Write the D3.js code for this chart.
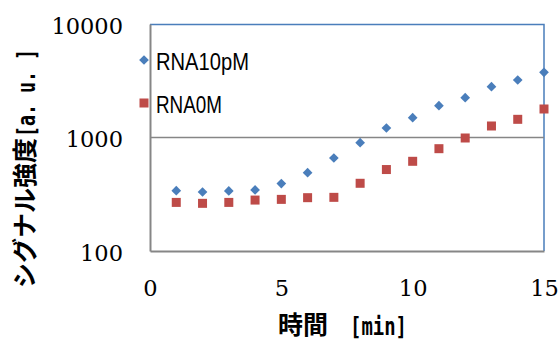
<!DOCTYPE html>
<html>
<head>
<meta charset="utf-8">
<script src="https://cdn.jsdelivr.net/npm/d3@7"></script>
<style>
  body { margin: 0; background: #fff; }
  .tick-label { font-family: "DejaVu Serif", serif; font-size: 22.5px; fill: #000; }
  .axis-title { font-family: "Noto Sans CJK JP", sans-serif; font-weight: bold; font-size: 25px; fill: #000; }
  .mono { font-family: "DejaVu Sans Mono", monospace; font-weight: bold; font-size: 25px; fill: #000; }
  .legend-text { font-family: "Liberation Sans", Arial, sans-serif; font-size: 23px; fill: #000; }
</style>
</head>
<body>
<div id="chart"></div>
<script>
// time [min]
const times = [1, 2, 3, 4, 5, 6, 7, 8, 9, 10, 11, 12, 13, 14, 15];
// signal intensity [a.u.]
const rna10pM = [340, 331, 338, 345, 393, 490, 660, 900, 1213, 1494, 1906, 2243, 2803, 3212, 3754];
const rna0M = [268, 263, 268, 281, 285, 295, 297, 395, 522, 617, 797, 990, 1263, 1446, 1783];
const seriesNames = ["RNA10pM", "RNA0M"];
const xTicks = [0, 5, 10, 15];
const yTicks = [100, 1000, 10000];

const W = 560, H = 340;
const margin = { top: 24, right: 16, bottom: 89, left: 150 };
const width = W - margin.left - margin.right;
const height = H - margin.top - margin.bottom;

const blue = "#4a7ebb";
const red = "#be4b48";
const axisGray = "#868686";

const svg = d3.select("#chart").append("svg")
  .attr("width", W)
  .attr("height", H);

const g = svg.append("g")
  .attr("transform", `translate(${margin.left}, ${margin.top})`);

const x = d3.scaleLinear().domain([0, 15]).range([0, width]);
const y = d3.scaleLog().domain([100, 10000]).range([height, 0]);

// plot area border (top/right)
g.append("path")
  .attr("d", `M0,0.5H${width}V${height}`)
  .attr("fill", "none")
  .attr("stroke", blue)
  .attr("stroke-width", 1.5);

// gridline at 1000
g.append("line")
  .attr("x1", 0).attr("x2", width)
  .attr("y1", y(1000)).attr("y2", y(1000))
  .attr("stroke", axisGray)
  .attr("stroke-width", 1.5);

// axes
const yAxis = g.append("g")
  .call(d3.axisLeft(y).tickValues(yTicks).tickSize(0).tickPadding(27).tickFormat(d3.format("d")));
const xAxis = g.append("g")
  .attr("transform", `translate(0, ${height})`)
  .call(d3.axisBottom(x).tickValues(xTicks).tickSize(0).tickPadding(26).tickFormat(d3.format("d")));

[yAxis, xAxis].forEach(ax => {
  ax.select(".domain").attr("stroke", axisGray).attr("stroke-width", 2);
  ax.selectAll("text").attr("class", "tick-label").attr("font-family", null).attr("font-size", null);
});
yAxis.selectAll("text").attr("dy", "9px");
xAxis.selectAll("text").attr("dy", "19px");

// markers
const diamond = d3.symbol().type(d3.symbolDiamond2).size(60);
g.selectAll(".pt10").data(times).join("path")
  .attr("class", "pt10")
  .attr("d", diamond)
  .attr("transform", (d, i) => `translate(${x(d)}, ${y(rna10pM[i])})`)
  .attr("fill", blue);

g.selectAll(".pt0").data(times).join("rect")
  .attr("class", "pt0")
  .attr("x", d => x(d) - 4.5)
  .attr("y", (d, i) => y(rna0M[i]) - 4.5)
  .attr("width", 9)
  .attr("height", 9)
  .attr("fill", red);

// legend
const legend = svg.append("g").attr("transform", "translate(144, 60)");
const legendTextLen = [93, 66];
seriesNames.forEach((name, i) => {
  const row = legend.append("g").attr("transform", `translate(0, ${i * 43})`);
  if (i === 0) {
    row.append("path").attr("d", diamond).attr("fill", blue);
  } else {
    row.append("rect").attr("x", -4.5).attr("y", -4.5).attr("width", 9).attr("height", 9).attr("fill", red);
  }
  row.append("text")
    .attr("class", "legend-text")
    .attr("x", 12)
    .attr("y", 9.5)
    .attr("textLength", legendTextLen[i])
    .attr("lengthAdjust", "spacingAndGlyphs")
    .text(name);
});

// axis titles
const xTitle = svg.append("g").attr("transform", "translate(278, 334)");
xTitle.append("text").attr("class", "axis-title").text("時間");
xTitle.append("text").attr("class", "mono")
  .attr("x", 72).attr("y", 1)
  .attr("textLength", 57).attr("lengthAdjust", "spacingAndGlyphs")
  .text("[min]");

const yTitle = svg.append("g").attr("transform", "translate(34, 288) rotate(-90)");
yTitle.append("text").attr("class", "axis-title").text("シグナル強度");
yTitle.append("text").attr("class", "mono")
  .attr("x", 151).attr("y", 1)
  .attr("textLength", 88).attr("lengthAdjust", "spacingAndGlyphs")
  .text("[a. u. ]");
</script>
</body>
</html>
